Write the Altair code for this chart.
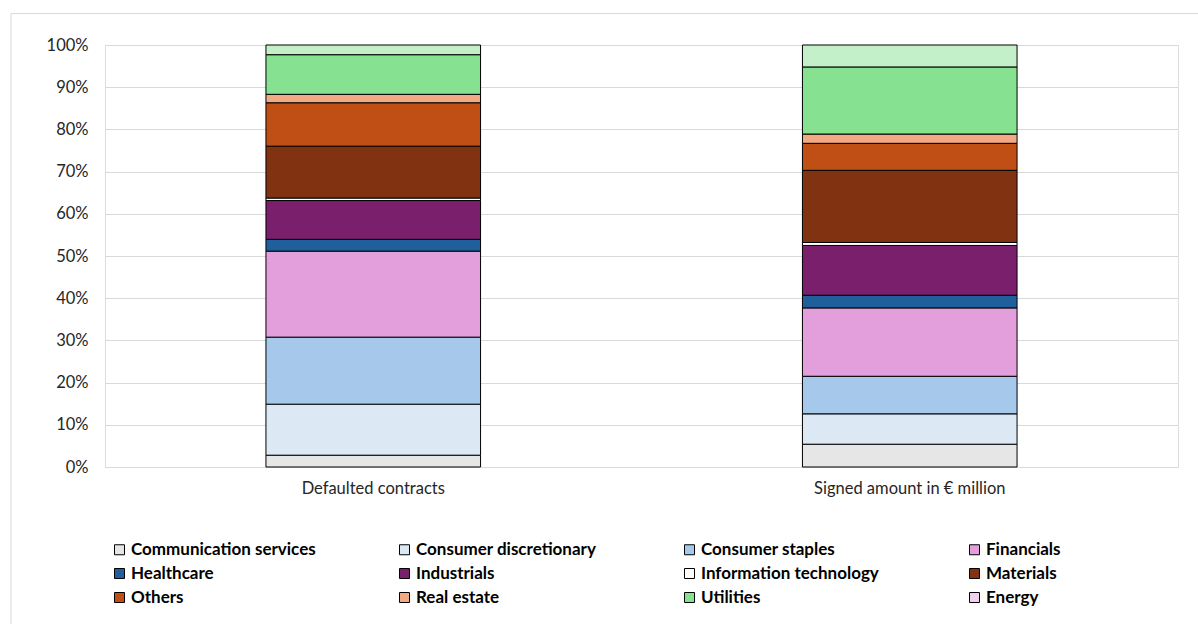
import altair as alt
import pandas as pd

# Bar categories and sector shares (% of each bar)
categories = ["Defaulted contracts", "Signed amount in € million"]
sectors = [
    "Communication services", "Consumer discretionary", "Consumer staples", "Financials",
    "Healthcare", "Industrials", "Information technology", "Materials",
    "Others", "Real estate", "Utilities", "Energy",
]
defaulted_share = [2.8, 12.1, 15.9, 20.4, 2.8, 9.2, 0.6, 12.3, 10.3, 2.0, 9.4, 2.3]
signed_share = [5.4, 7.2, 8.9, 16.2, 3.0, 11.8, 0.7, 17.1, 6.4, 2.2, 15.9, 5.2]

# Segment fills in the bars, and swatch fills in the legend
bar_colors = [
    "#e7e6e6", "#dce9f5", "#a6c9eb", "#e39edc", "#1f5f9b", "#7a1f6c",
    "#ffffff", "#803211", "#c04f15", "#f2aa84", "#86e290", "#c3f0c9",
]
legend_colors = bar_colors[:-1] + ["#f2cfee"]

rows = []
for cat, values in zip(categories, [defaulted_share, signed_share]):
    for i, (sec, v) in enumerate(zip(sectors, values)):
        rows.append({"category": cat, "sector": sec, "share": v, "order": i})
df = pd.DataFrame(rows)

W, H = 1073, 422
FONT = "Lato"

x_enc = alt.X(
    "category:N", sort=categories, title=None,
    scale=alt.Scale(paddingInner=0.6, paddingOuter=0.3),
    axis=alt.Axis(labelAngle=0, labelFont=FONT, labelFontSize=16.5, labelColor="#262626",
                  labelPadding=13, labelLimit=400, ticks=False, domain=False, grid=False),
)

bars = alt.Chart(df).mark_bar(stroke="black", strokeWidth=1).encode(
    x=x_enc,
    y=alt.Y(
        "share:Q", stack="normalize", title=None,
        scale=alt.Scale(domain=[0, 1]),
        axis=alt.Axis(values=[i / 10 for i in range(11)], format=".0%", labelFont=FONT,
                      labelFontSize=16.5, labelColor="#262626", labelPadding=17,
                      ticks=False, domain=False, gridColor="#d9d9d9", gridWidth=1),
    ),
    color=alt.Color("sector:N", scale=alt.Scale(domain=sectors, range=bar_colors), legend=None),
    order=alt.Order("order:Q", sort="ascending"),
)

# Small squares tucked under the bars; they carry the sector legend
legend_keys = alt.Chart(df).mark_square(
    size=4, opacity=1, stroke="black", strokeWidth=1
).encode(
    x=x_enc,
    y=alt.value(H - 5),
    fill=alt.Fill(
        "sector:N", sort=sectors,
        scale=alt.Scale(domain=sectors, range=legend_colors),
        legend=alt.Legend(
            title=None, orient="none", legendX=6, legendY=496, columns=4,
            direction="horizontal", gridAlign="all", columnPadding=80, rowPadding=6,
            symbolType="square", symbolSize=100, symbolStrokeColor="black",
            symbolStrokeWidth=1, symbolOpacity=1, labelFont=FONT, labelFontWeight="bold",
            labelFontSize=17, labelColor="black", labelOffset=3, labelLimit=300,
        ),
    ),
)

# Light frame around the whole figure
frame = alt.Chart(alt.Data(values=[{}])).mark_rect(
    fillOpacity=0, stroke="#d9d9d9", strokeWidth=1
).encode(
    x=alt.value(-94), x2=alt.value(W + 40),
    y=alt.value(-31.5), y2=alt.value(H + 200),
)

chart = alt.layer(frame, legend_keys, bars).properties(
    width=W, height=H,
    autosize=alt.AutoSizeParams(type="none"),
    padding={"left": 105, "top": 45, "right": 20, "bottom": 157},
).configure_view(stroke=None).configure(background="white")

chart.save("out.html", embed_options={"renderer": "svg", "actions": False})
